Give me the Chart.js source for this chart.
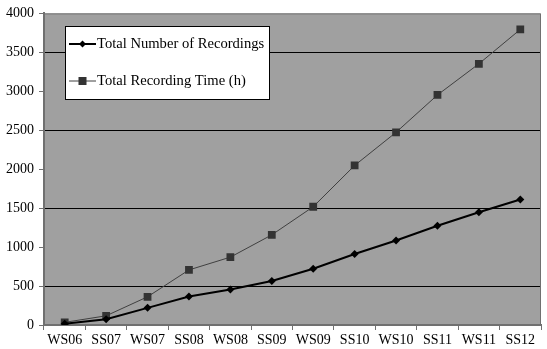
<!DOCTYPE html>
<html>
<head>
<meta charset="utf-8">
<script src="https://cdn.jsdelivr.net/npm/chart.js@4"></script>
<style>
  body { margin: 0; background: #fff; }
  #wrap { width: 547px; height: 349px; }
</style>
</head>
<body>
<div id="wrap"><canvas id="myChart"></canvas></div>
<script>
// semesters on the x axis
var semesters = ['WS06', 'SS07', 'WS07', 'SS08', 'WS08', 'SS09', 'WS09', 'SS10', 'WS10', 'SS11', 'WS11', 'SS12'];

// cumulative totals per semester
var recordings = [15, 75, 220, 365, 455, 565, 723, 912, 1085, 1274, 1447, 1611];
var recordingHours = [34, 118, 362, 707, 871, 1157, 1518, 2048, 2473, 2953, 3353, 3794];

// y axis ticks
var yTicks = [0, 500, 1000, 1500, 2000, 2500, 3000, 3500, 4000];

var serif = 'Liberation Serif, Times New Roman, serif';

// grey plot background with a darker frame
var plotBackground = {
  id: 'plotBackground',
  beforeDraw: function (chart) {
    var a = chart.chartArea, c = chart.ctx;
    c.save();
    c.fillStyle = '#a0a0a0';
    c.fillRect(a.left, a.top, a.right - a.left, a.bottom - a.top);
    c.restore();
  },
  afterDraw: function (chart) {
    var a = chart.chartArea, c = chart.ctx;
    c.save();
    c.strokeStyle = '#707070';
    c.lineWidth = 1;
    c.beginPath();
    c.moveTo(a.left, a.top + 0.5);
    c.lineTo(a.right - 0.5, a.top + 0.5);
    c.lineTo(a.right - 0.5, a.bottom);
    c.stroke();
    c.restore();
  }
};

// boxed legend sitting inside the plot
var boxLegend = {
  id: 'boxLegend',
  afterDraw: function (chart) {
    var c = chart.ctx;
    var x = 65, y = 26, w = 204, h = 73;
    c.save();
    c.fillStyle = '#fff';
    c.fillRect(x, y, w, h);
    c.strokeStyle = '#000';
    c.lineWidth = 1;
    c.strokeRect(x + 0.5, y + 0.5, w, h);
    var rows = [44, 81];
    chart.data.datasets.forEach(function (ds, i) {
      var ry = rows[i];
      c.strokeStyle = ds.borderColor;
      c.lineWidth = ds.borderWidth;
      c.beginPath();
      c.moveTo(x + 4, ry);
      c.lineTo(x + 31, ry);
      c.stroke();
      c.fillStyle = ds.pointBackgroundColor;
      var cx = x + 17.5;
      if (ds.pointStyle === 'rect') {
        c.fillRect(cx - 4, ry - 4, 8, 8);
      } else {
        c.beginPath();
        c.moveTo(cx, ry - 3.5);
        c.lineTo(cx + 3.5, ry);
        c.lineTo(cx, ry + 3.5);
        c.lineTo(cx - 3.5, ry);
        c.closePath();
        c.fill();
      }
      c.fillStyle = '#000';
      c.font = '14.6px ' + serif;
      c.textBaseline = 'middle';
      c.fillText(ds.label, x + 32, ry);
    });
    c.restore();
  }
};

var ctx = document.getElementById('myChart').getContext('2d');

var myChart = new Chart(ctx, {
  type: 'line',
  data: {
    labels: semesters,
    datasets: [{
      label: 'Total Number of Recordings',
      data: recordings,
      borderColor: '#000',
      borderWidth: 2,
      pointStyle: 'rectRot',
      pointRadius: 4,
      pointBackgroundColor: '#000',
      pointBorderWidth: 0,
      tension: 0
    }, {
      label: 'Total Recording Time (h)',
      data: recordingHours,
      borderColor: '#404040',
      borderWidth: 1,
      pointStyle: 'rect',
      pointRadius: 5.5,
      pointBackgroundColor: '#333',
      pointBorderWidth: 0,
      tension: 0
    }]
  },
  options: {
    responsive: true,
    maintainAspectRatio: false,
    animation: false,
    layout: { padding: { top: 8, right: 6, left: 0, bottom: 0 } },
    plugins: {
      legend: { display: false },
      tooltip: { enabled: false }
    },
    scales: {
      x: {
        offset: true,
        grid: {
          offset: true,
          drawOnChartArea: false,
          tickLength: 5,
          color: '#707070'
        },
        border: { color: '#707070', width: 2 },
        ticks: {
          color: '#000',
          font: { family: serif, size: 14 },
          padding: 2,
          maxRotation: 0,
          autoSkip: false
        },
        afterFit: function (s) { s.height = 24; }
      },
      y: {
        min: 0,
        max: 4000,
        afterBuildTicks: function (s) {
          s.ticks = yTicks.map(function (v) { return { value: v }; });
        },
        grid: {
          color: function (c) {
            return c.tick && c.tick.value % 1000 === 500 ? '#000' : 'rgba(0,0,0,0)';
          },
          tickColor: '#707070',
          tickLength: 5
        },
        border: { color: '#707070', width: 2 },
        ticks: {
          color: '#000',
          font: { family: serif, size: 14 },
          padding: 5,
          callback: function (v) { return String(v); }
        },
        afterFit: function (s) { s.width = 44; }
      }
    }
  },
  plugins: [plotBackground, boxLegend]
});
</script>
</body>
</html>
